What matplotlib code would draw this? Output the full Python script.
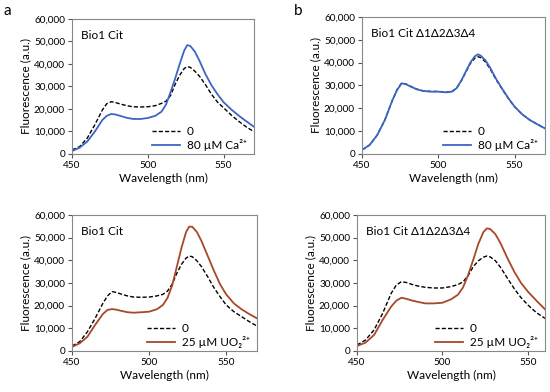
import numpy as np
import matplotlib
matplotlib.use("Agg")
import matplotlib.pyplot as plt

plt.rcParams["font.family"] = ["Lato", "DejaVu Sans"]

# Wavelength grid (nm)
WL = [450, 455, 460, 465, 470, 473, 476, 479, 482, 486, 490, 495, 500, 505,
      509, 512, 515, 518, 521, 524, 526, 528, 531, 534, 538, 542, 546, 550,
      555, 560, 565, 570]

# a, top: Bio1 Cit, 0 vs 80 uM Ca2+
a_top_zero = [1800, 3250, 7000, 12900, 19550, 22400, 23250, 22800, 22200,
              21500, 21000, 20900, 21000, 21500, 22500, 23500, 26000, 31000,
              35000, 38000, 38800, 38500, 36800, 34600, 30800, 26500, 23000,
              20500, 17300, 14500, 12000, 9900]
a_top_ca = [1300, 2800, 5500, 9900, 15100, 17000, 17800, 17500, 16900,
            16100, 15600, 15550, 16000, 17000, 18800, 22000, 27500, 33500,
            40000, 46000, 48400, 48000, 45500, 41500, 35500, 30500, 26500,
            23000, 19800, 17000, 14500, 12100]

# b, top: Bio1 Cit d1d2d3d4, 0 vs 80 uM Ca2+
b_top_zero = [1800, 3950, 8300, 14900, 23650, 28200, 31100, 30600, 29600,
              28400, 27700, 27400, 27400, 27100, 27400, 28800, 31900, 35800,
              39600, 42000, 42600, 42200, 40300, 37300, 32500, 28300, 24300,
              20700, 17400, 14900, 13000, 11200]
b_top_ca = [1760, 3950, 8300, 14900, 23650, 28000, 30950, 30500, 29500,
            28300, 27600, 27300, 27300, 27000, 27300, 28800, 32000, 36000,
            40000, 42800, 43650, 43000, 41000, 37800, 32800, 28500, 24400,
            20800, 17400, 14900, 13000, 11200]

# a, bottom: Bio1 Cit, 0 vs 25 uM UO2 2+
a_bot_zero = [2200, 4100, 8500, 14400, 21000, 24300, 26200, 25800, 25100,
              24300, 23800, 23700, 23800, 24300, 25000, 26500, 29500, 34300,
              38200, 41000, 41900, 41600, 39800, 37200, 32800, 28000, 24000,
              20300, 17350, 15150, 12950, 11000]
a_bot_uo2 = [1800, 3400, 6300, 11500, 16300, 18100, 18500, 18200, 17700,
             17100, 16900, 17100, 17350, 18400, 20300, 23500, 29000, 37200,
             45500, 52500, 54850, 54800, 52500, 48500, 42000, 35500, 29500,
             25000, 21000, 18400, 16300, 14400]

# b, bottom: Bio1 Cit d1d2d3d4, 0 vs 25 uM UO2 2+ (x range stops at 560)
WL_B = WL[:30]
b_bot_zero = [2650, 4850, 9300, 16600, 25450, 29100, 30600, 30200, 29400,
              28600, 28100, 27800, 27800, 28400, 29300, 30500, 33200, 37200,
              39800, 41400, 41900, 41500, 39800, 36900, 32100, 27500, 23500,
              20300, 16900, 14400]
b_bot_uo2 = [2200, 3700, 7100, 13700, 19600, 22200, 23500, 23000, 22300,
             21600, 21000, 21000, 21300, 22800, 24800, 28000, 33500, 40200,
             47300, 52500, 54100, 53800, 51500, 47500, 41000, 35000, 30000,
             26200, 22200, 18400]

BLUE = "#3d66c2"
BROWN = "#a8472a"


def make_panel(ax, x, zero, treated, color, label, title, xmax):
    ax.plot(x, zero, color="black", ls=(0, (3, 1.5)), lw=1.0, label="0")
    ax.plot(x, treated, color=color, lw=1.3, label=label)
    ax.set_xlim(450, xmax)
    ax.set_ylim(0, 60000)
    ax.set_xticks([450, 500, 550])
    ax.set_yticks(range(0, 60001, 10000))
    ax.yaxis.set_major_formatter(
        matplotlib.ticker.FuncFormatter(lambda v, p: f"{int(v):,}"))
    ax.tick_params(direction="out", length=3, width=0.8, labelsize=7.2,
                   color="#555555", pad=2)
    for s in ax.spines.values():
        s.set_color("#888888")
        s.set_linewidth(0.8)
    ax.set_xlabel("Wavelength (nm)", fontsize=8.5, labelpad=2)
    ax.set_ylabel("Fluorescence (a.u.)", fontsize=8.5, labelpad=2)
    ax.text(0.05, 0.92, title, transform=ax.transAxes, fontsize=8.5,
            va="top", ha="left")
    ax.legend(loc="lower right", bbox_to_anchor=(1.0, -0.03), frameon=False,
              fontsize=8.5, handlelength=2.4, handletextpad=0.6,
              borderaxespad=0.2, labelspacing=0.15)


W, H = 550, 392
fig = plt.figure(figsize=(W / 100, H / 100), dpi=100)


def axes_px(left, top, right, bottom):
    return fig.add_axes([left / W, 1 - bottom / H, (right - left) / W,
                         (bottom - top) / H])


ax1 = axes_px(72, 19, 254, 154)
ax2 = axes_px(362, 17, 545, 154)
ax3 = axes_px(72, 215, 257, 351)
ax4 = axes_px(357, 215, 545, 351)

ca = "80 µM Ca²⁺"
uo = "25 µM UO₂²⁺"
make_panel(ax1, WL, a_top_zero, a_top_ca, BLUE, ca, "Bio1 Cit", 570)
make_panel(ax2, WL, b_top_zero, b_top_ca, BLUE, ca,
           "Bio1 Cit Δ1Δ2Δ3Δ4", 570)
make_panel(ax3, WL, a_bot_zero, a_bot_uo2, BROWN, uo, "Bio1 Cit", 570)
make_panel(ax4, WL_B, b_bot_zero, b_bot_uo2, BROWN, uo,
           "Bio1 Cit Δ1Δ2Δ3Δ4", 560)

fig.text(4 / W, 1 - 11 / H, "a", fontsize=11, va="center", ha="left")
fig.text(294 / W, 1 - 11 / H, "b", fontsize=11, va="center", ha="left")

fig.savefig("out.png", dpi=100)
